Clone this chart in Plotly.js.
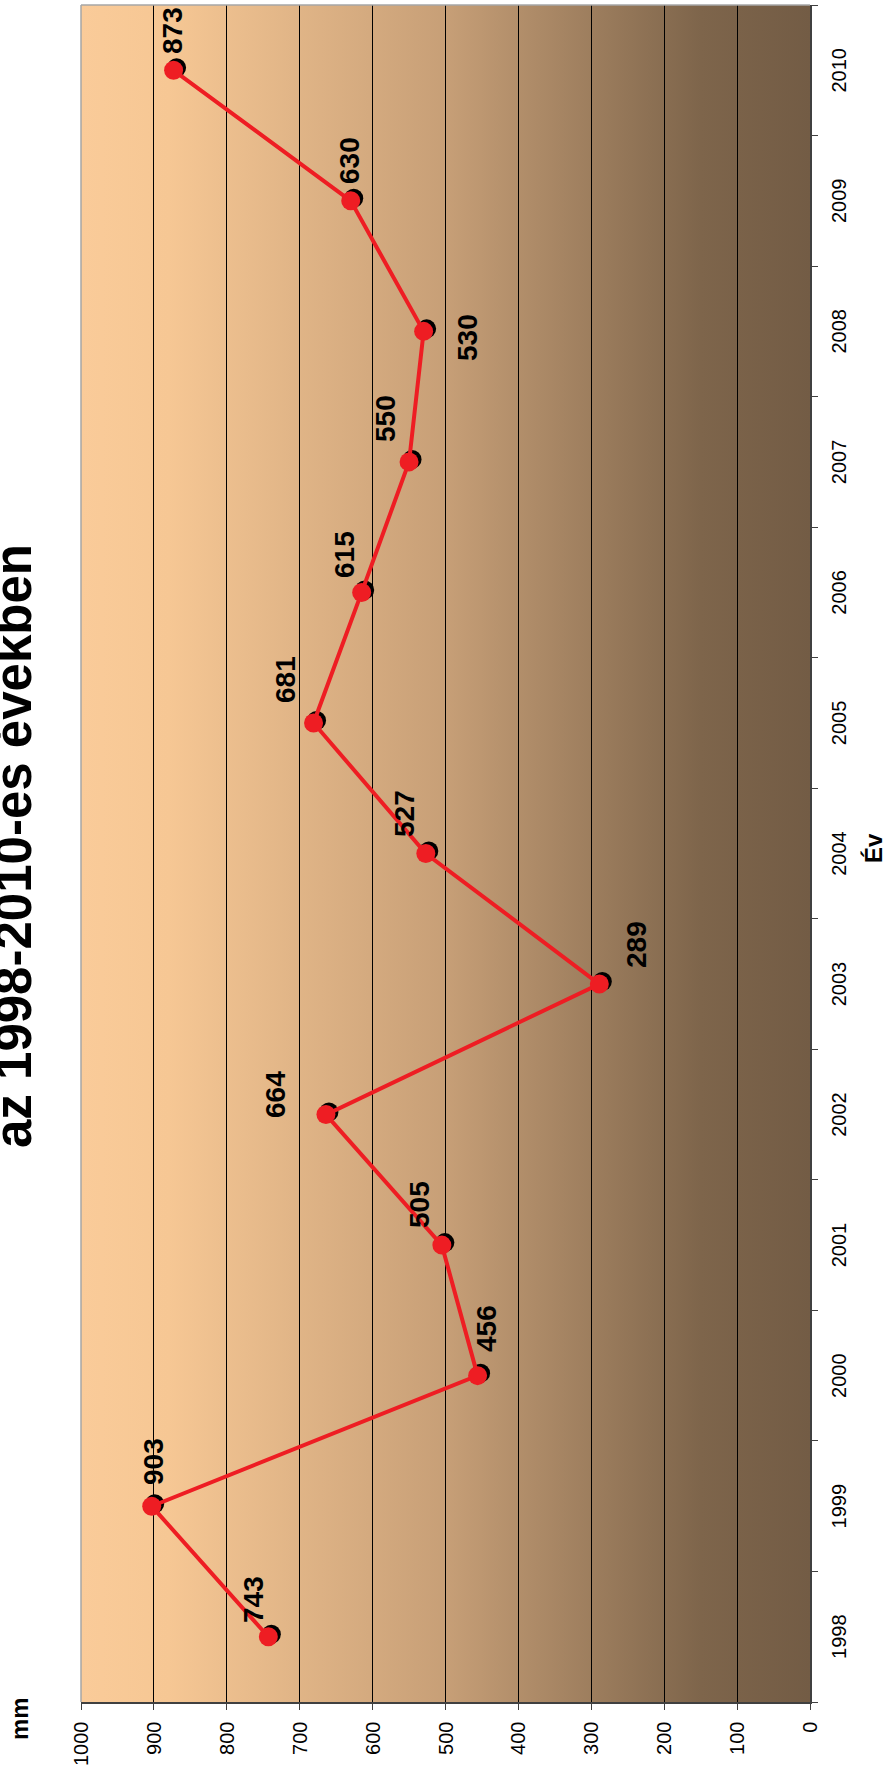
<!DOCTYPE html>
<html>
<head>
<meta charset="utf-8">
<script src="https://cdn.plot.ly/plotly-3.0.1.min.js"></script>
<style>
html, body { margin:0; padding:0; width:889px; height:1773px; overflow:hidden; background:#ffffff; }
#chart { position:absolute; left:0; top:0; width:1773px; height:889px;
         transform-origin:0 0; transform:translate(0px,1773px) rotate(-90deg); }
</style>
</head>
<body>
<div id="chart"></div>
<script>
// ---- data ----
const years = ['1998','1999','2000','2001','2002','2003','2004','2005','2006','2007','2008','2009','2010'];
const rainfall = [743, 903, 456, 505, 664, 289, 527, 681, 615, 550, 530, 630, 873];
const valueTicks = [0, 100, 200, 300, 400, 500, 600, 700, 800, 900, 1000];
const chartTitle = 'az 1998-2010-es években';
const xTitle = 'Év';
const yTitle = 'mm';

// ---- label placement (pixel shifts, style only) ----
const labelShift = [[37,15],[45,-2],[47,-9],[41,22],[20,50],[40,-37],[40,21],[43,28],[38,17],[43,24],[-6,-44],[40,1],[40,1]];

const W = 1773, H = 889;
const M = {l:71, r:5, t:81, b:79};
const plotW = W - M.l - M.r, plotH = H - M.t - M.b;
const shadowDx = 2.5 / (plotW / years.length);
const shadowDy = 3 * 1000 / plotH;

const FONT = 'Liberation Sans, Arial, Helvetica, sans-serif';

const gradSvg = '<svg xmlns="http://www.w3.org/2000/svg" width="100" height="100" viewBox="0 0 100 100" preserveAspectRatio="none">' +
  '<defs><linearGradient id="g" x1="0" y1="0" x2="0" y2="1">' +
  '<stop offset="0" stop-color="#FACB99"/>' +
  '<stop offset="0.12" stop-color="#F6C794"/>' +
  '<stop offset="0.5" stop-color="#C79F77"/>' +
  '<stop offset="0.85" stop-color="#7E654B"/>' +
  '<stop offset="1" stop-color="#735C45"/>' +
  '</linearGradient></defs><rect x="0" y="0" width="100" height="100" fill="url(#g)"/></svg>';
const gradUri = 'data:image/svg+xml;charset=utf-8,' + encodeURIComponent(gradSvg);

// invisible anchor trace so the main subplot (with axes and grid) exists
const baseTrace = {
  x: years, y: rainfall, xaxis:'x', yaxis:'y',
  type:'scatter', mode:'markers', marker:{color:'rgba(0,0,0,0)', size:1},
  hoverinfo:'skip'
};
const shadowTrace = {
  x: years, y: rainfall, xaxis:'x2', yaxis:'y2',
  type:'scatter', mode:'markers',
  marker:{color:'#000000', size:19},
  hoverinfo:'skip'
};
const mainTrace = {
  x: years, y: rainfall, xaxis:'x3', yaxis:'y3',
  type:'scatter', mode:'lines+markers',
  line:{color:'#EE1D23', width:4},
  marker:{color:'#EE1D23', size:19},
  hoverinfo:'skip'
};

// category axis: annotation x is the category's serial number
const annotations = years.map((yr, i) => ({
  x: years.indexOf(yr), y: rainfall[i], xref:'x', yref:'y',
  text: String(rainfall[i]), showarrow:false,
  xanchor:'center', yanchor:'middle',
  xshift: labelShift[i][0], yshift: labelShift[i][1],
  font:{family:FONT, size:28, color:'#000', weight:'bold'}
}));
annotations.push({
  xref:'paper', yref:'paper', x:(927 - M.l)/plotW, y:1 - (44 - M.t)/plotH,
  xanchor:'center', yanchor:'bottom', showarrow:false,
  text: chartTitle, font:{family:FONT, size:51, color:'#000', weight:'bold'}
});
annotations.push({
  xref:'paper', yref:'paper', x:(54 - M.l)/plotW, y:1 - (20 - M.t)/plotH,
  xanchor:'center', yanchor:'middle', showarrow:false,
  text: yTitle, font:{family:FONT, size:24, color:'#000', weight:'bold'}
});
annotations.push({
  xref:'paper', yref:'paper', x:(925 - M.l)/plotW, y:1 - (873 - M.t)/plotH,
  xanchor:'center', yanchor:'middle', showarrow:false,
  text: xTitle, font:{family:FONT, size:24, color:'#000', weight:'bold'}
});

const layout = {
  width: W, height: H,
  margin: M,
  paper_bgcolor:'#ffffff',
  plot_bgcolor:'rgba(0,0,0,0)',
  showlegend:false,
  font:{family:FONT, color:'#000'},
  xaxis:{
    type:'category', range:[-0.5, years.length - 0.5],
    tickson:'boundaries', ticks:'outside', ticklen:6, tickcolor:'#404040', tickwidth:1,
    showline:true, linecolor:'#404040', linewidth:1.5,
    showgrid:false, zeroline:false,
    tickfont:{size:20, family:FONT, color:'#000'}, ticklabelstandoff:10
  },
  yaxis:{
    range:[0, 1000], tickmode:'array', tickvals:valueTicks, ticktext:valueTicks.map(String),
    ticks:'outside', ticklen:6, tickcolor:'#404040', tickwidth:1,
    showline:true, linecolor:'#404040', linewidth:1.5,
    showgrid:true, gridcolor:'#000000', gridwidth:1, zeroline:false,
    tickfont:{size:20, family:FONT, color:'#000'}, ticklabelstandoff:8
  },
  xaxis2:{type:'category', overlaying:'x', anchor:'y2', range:[-0.5 - shadowDx, years.length - 0.5 - shadowDx], visible:false},
  yaxis2:{overlaying:'y', anchor:'x2', range:[shadowDy, 1000 + shadowDy], visible:false},
  xaxis3:{type:'category', overlaying:'x', anchor:'y3', range:[-0.5, years.length - 0.5], visible:false},
  yaxis3:{overlaying:'y', anchor:'x3', range:[0, 1000], visible:false},
  images:[{
    source: gradUri, xref:'paper', yref:'paper', x:0, y:1, sizex:1, sizey:1,
    xanchor:'left', yanchor:'top', sizing:'stretch', layer:'below'
  }],
  shapes:[
    {type:'line', xref:'paper', yref:'paper', x0:0, x1:1, y0:1, y1:1, line:{color:'#A6A6A6', width:1.5}},
    {type:'line', xref:'paper', yref:'paper', x0:1, x1:1, y0:0, y1:1, line:{color:'#A6A6A6', width:1.5}}
  ],
  annotations: annotations
};

Plotly.newPlot('chart', [baseTrace, shadowTrace, mainTrace], layout, {staticPlot:true, displayModeBar:false});
</script>
</body>
</html>
